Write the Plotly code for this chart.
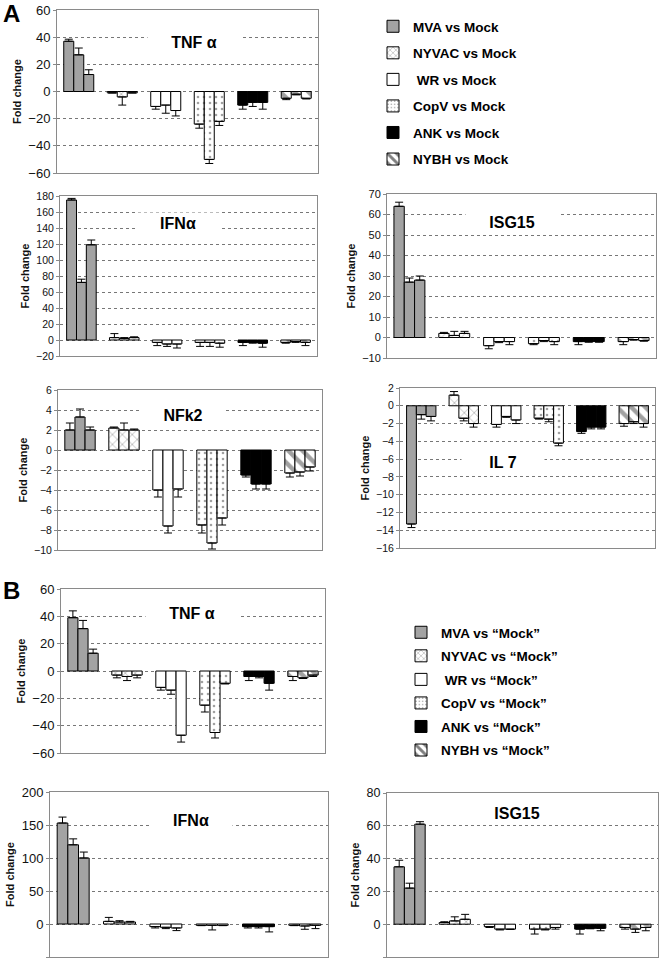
import plotly.graph_objects as go

W, H = 660, 964
viruses = ["MVA", "NYVAC", "WR", "CopV", "ANK", "NYBH"]
legend_A = ["MVA vs Mock", "NYVAC vs Mock", " WR vs Mock", "CopV vs Mock", "ANK vs Mock", "NYBH vs Mock"]
legend_B = ["MVA vs \u201cMock\u201d", "NYVAC vs \u201cMock\u201d", " WR vs \u201cMock\u201d",
            "CopV vs \u201cMock\u201d", "ANK vs \u201cMock\u201d", "NYBH vs \u201cMock\u201d"]

# values: per virus, three bars
A_TNF = [[37, 27, 12.5], [-1, -4, -1], [-11, -10, -14], [-24, -50, -22], [-10, -8, -8], [-5, -2, -5]]
A_TNF_err = [[1.5, 5, 3.5], [0, 6, 0], [2, 6, 4], [3, 3, 3], [3, 3, 5], [1, 0.5, 0.5]]
A_IFN = [[175, 72, 119], [3, 2, 3], [-3, -5, -5], [-3, -3, -4], [-3, -3, -4], [-3, -2, -3]]
A_IFN_err = [[2, 4, 6], [5, 1, 1], [4, 3, 5], [5, 5, 5], [4, 1, 5], [1, 1, 4]]
A_ISG = [[64, 27, 28], [2, 1, 2], [-4, -2, -2], [-3, -1.5, -2], [-2, -2, -2], [-2, -1, -1.5]]
A_ISG_err = [[2, 2, 2], [0.5, 2, 1], [1.5, 0.5, 1.5], [0.5, 0.5, 1.5], [1.5, 0.3, 0.3], [1.5, 0.3, 0.3]]
A_NFK = [[2, 3.3, 2], [2.2, 2, 2], [-4, -7.6, -3.9], [-7.5, -9.3, -6.8], [-2.5, -3.4, -3.4], [-2.3, -2.2, -1.7]]
A_NFK_err = [[0.7, 0.8, 0.3], [0.1, 0.7, 0.1], [0.7, 0.7, 0.8], [0.8, 0.6, 0.7], [0.2, 0.5, 0.5], [0.4, 0.4, 0.4]]
A_IL7 = [[-13.3, -1, -1.2], [1.2, -1.4, -2], [-2.1, -1.2, -1.6], [-1.4, -1.5, -4.2], [-2.9, -2.4, -2.4], [-2, -1.8, -2]]
A_IL7_err = [[0.4, 0.5, 0.5], [0.4, 0.3, 0.4], [0.3, 0.1, 0.4], [0.1, 0.3, 0.3], [0.2, 0.2, 0.2], [0.3, 0.2, 0.4]]
B_TNF = [[39, 31, 13], [-3, -4, -3], [-12, -14, -47], [-25, -45, -9], [-4, -4, -9], [-4, -5, -3]]
B_TNF_err = [[5, 6, 3], [2, 3, 2], [2, 3, 5], [5, 4, 0.5], [3, 1, 5], [3, 0.5, 1]]
B_IFN = [[153, 120, 100], [4, 3, 3], [-4, -5, -6], [-2, -2, -2], [-4, -4, -4], [-2, -3, -2]]
B_IFN_err = [[9, 9, 9], [6, 2, 1], [2, 2, 4], [0.5, 7, 0.5], [2, 2, 8], [0.5, 5, 5]]
B_ISG = [[35, 22, 61], [1, 2, 3], [-1.5, -3, -3], [-3, -3, -2], [-3, -2.5, -2.5], [-2, -3, -2]]
B_ISG_err = [[4, 3, 1.5], [0.5, 2.5, 3], [0.5, 0.5, 0.2], [3, 0.5, 1], [3, 0.3, 1.5], [1, 2, 2]]

fill_colors = ["#a3a3a3", "white", "white", "white", "black", "white"]
pat_shapes = ["", "x", "", ".", "", "\\"]
pat_sizes = [8, 7, 8, 6, 8, 10]
pat_solid = [0.3, 0.18, 0.3, 0.15, 0.3, 0.45]

# panels: data, err, range, dtick, title, x domain px, y domain px, title pos, tick size
panels = [
    (A_TNF, A_TNF_err, [-60, 60], 20, "TNF \u03b1", (57, 318), (10, 173), (194, 42), 13),
    (A_IFN, A_IFN_err, [-20, 180], 20, "IFN\u03b1", (60, 317), (196, 356), (178, 223), 10.5),
    (A_ISG, A_ISG_err, [-10, 70], 10, "ISG15", (387, 656), (194, 358), (512, 222), 11),
    (A_NFK, A_NFK_err, [-10, 6], 2, "NFk2", (58, 322), (390, 550), (183, 415), 10.5),
    (A_IL7, A_IL7_err, [-16, 2], 2, "IL 7", (400, 655), (388, 548), (503, 462), 10.5),
    (B_TNF, B_TNF_err, [-60, 60], 20, "TNF \u03b1", (61, 325), (589, 753), (192, 613), 13),
    (B_IFN, B_IFN_err, [-50, 200], 50, "IFN\u03b1", (50, 328), (792, 957), (191, 820), 13),
    (B_ISG, B_ISG_err, [-20, 80], 20, "ISG15", (387, 658), (793, 957), (517, 813), 12.5),
]

FONT = "Arial, Liberation Sans, sans-serif"
fig = go.Figure()
annotations = []
layout = {}

for i, (vals, errs, rng, dt, title, xd, yd, tpos, tfs) in enumerate(panels):
    n = i + 1
    xa = "x" if n == 1 else f"x{n}"
    ya = "y" if n == 1 else f"y{n}"
    for r in range(3):
        yv = [vals[v][r] for v in range(6)]
        ev = [errs[v][r] for v in range(6)]
        plus = [e if y >= 0 else 0 for y, e in zip(yv, ev)]
        minus = [e if y < 0 else 0 for y, e in zip(yv, ev)]
        fig.add_trace(go.Bar(
            x=viruses, y=yv, xaxis=xa, yaxis=ya, showlegend=False, offsetgroup=f"r{r}",
            marker=dict(color=fill_colors, line=dict(color="black", width=1),
                        pattern=dict(shape=pat_shapes, size=pat_sizes, solidity=pat_solid,
                                     fgcolor="black", fillmode="overlay")),
            error_y=dict(type="data", symmetric=False, array=plus, arrayminus=minus,
                         color="black", thickness=1, width=4),
            hoverinfo="skip",
        ))
    kx = "xaxis" if n == 1 else f"xaxis{n}"
    ky = "yaxis" if n == 1 else f"yaxis{n}"
    layout[kx] = dict(domain=[xd[0] / W, xd[1] / W], anchor=ya, showticklabels=False,
                      ticks="", showgrid=False, showline=True, mirror=True, automargin=False,
                      linecolor="#8a8a8a", linewidth=1, zeroline=False)
    layout[ky] = dict(domain=[1 - yd[1] / H, 1 - yd[0] / H], anchor=xa, range=rng, dtick=dt,
                      showgrid=True, gridcolor="#777", griddash="dot", gridwidth=1,
                      zeroline=False, showline=True, mirror=True, linecolor="#8a8a8a",
                      linewidth=1, ticks="outside", ticklen=3, tickcolor="#8a8a8a",
                      automargin=False,
                      tickfont=dict(family=FONT, size=tfs, color="#111"),
                      title=dict(text="<b>Fold change</b>", font=dict(family=FONT, size=11, color="#111"),
                                 standoff=4))
    annotations.append(dict(x=tpos[0] / W, y=1 - tpos[1] / H, xref="paper", yref="paper",
                            xanchor="center", yanchor="middle",
                            text=f"<b>{title}</b>", showarrow=False, bgcolor="white",
                            width=len(title) * 10 + 40, height=18,
                            font=dict(family=FONT, size=16, color="black")))

for txt, y in [("A", 14), ("B", 590)]:
    annotations.append(dict(x=11 / W, y=1 - y / H, xref="paper", yref="paper", text=f"<b>{txt}</b>",
                            xanchor="center", yanchor="middle",
                            showarrow=False, font=dict(family=FONT, size=24, color="black")))

# legend entries
for leg_name, labels in [("legend", legend_A), ("legend2", legend_B)]:
    for v in range(6):
        fig.add_trace(go.Bar(
            x=[None], y=[None], name=f"<b>{labels[v]}</b>", legend=leg_name,
            legendgroup=f"{leg_name}{v}", showlegend=True, offsetgroup="r0",
            marker=dict(color=fill_colors[v], line=dict(color="black", width=1),
                        pattern=dict(shape=pat_shapes[v], size=pat_sizes[v] - 2,
                                     solidity=pat_solid[v], fgcolor="black", fillmode="overlay")),
        ))

fig.update_layout(
    width=W, height=H, margin=dict(l=0, r=0, t=0, b=0, autoexpand=False),
    paper_bgcolor="white", plot_bgcolor="white",
    barmode="group", bargap=0.31, bargroupgap=0,
    annotations=annotations,
    legend=dict(x=373 / W, y=1 - 11 / H, xanchor="left", yanchor="top",
                font=dict(family=FONT, size=13.5, color="black"), tracegroupgap=6,
                bgcolor="rgba(0,0,0,0)"),
    legend2=dict(x=401 / W, y=1 - 617 / H, xanchor="left", yanchor="top",
                 font=dict(family=FONT, size=13.5, color="black"), tracegroupgap=3,
                 bgcolor="rgba(0,0,0,0)"),
    **layout,
)

fig.write_html("out.html", config={"displayModeBar": False},
               post_script="document.body.style.margin='0';")
